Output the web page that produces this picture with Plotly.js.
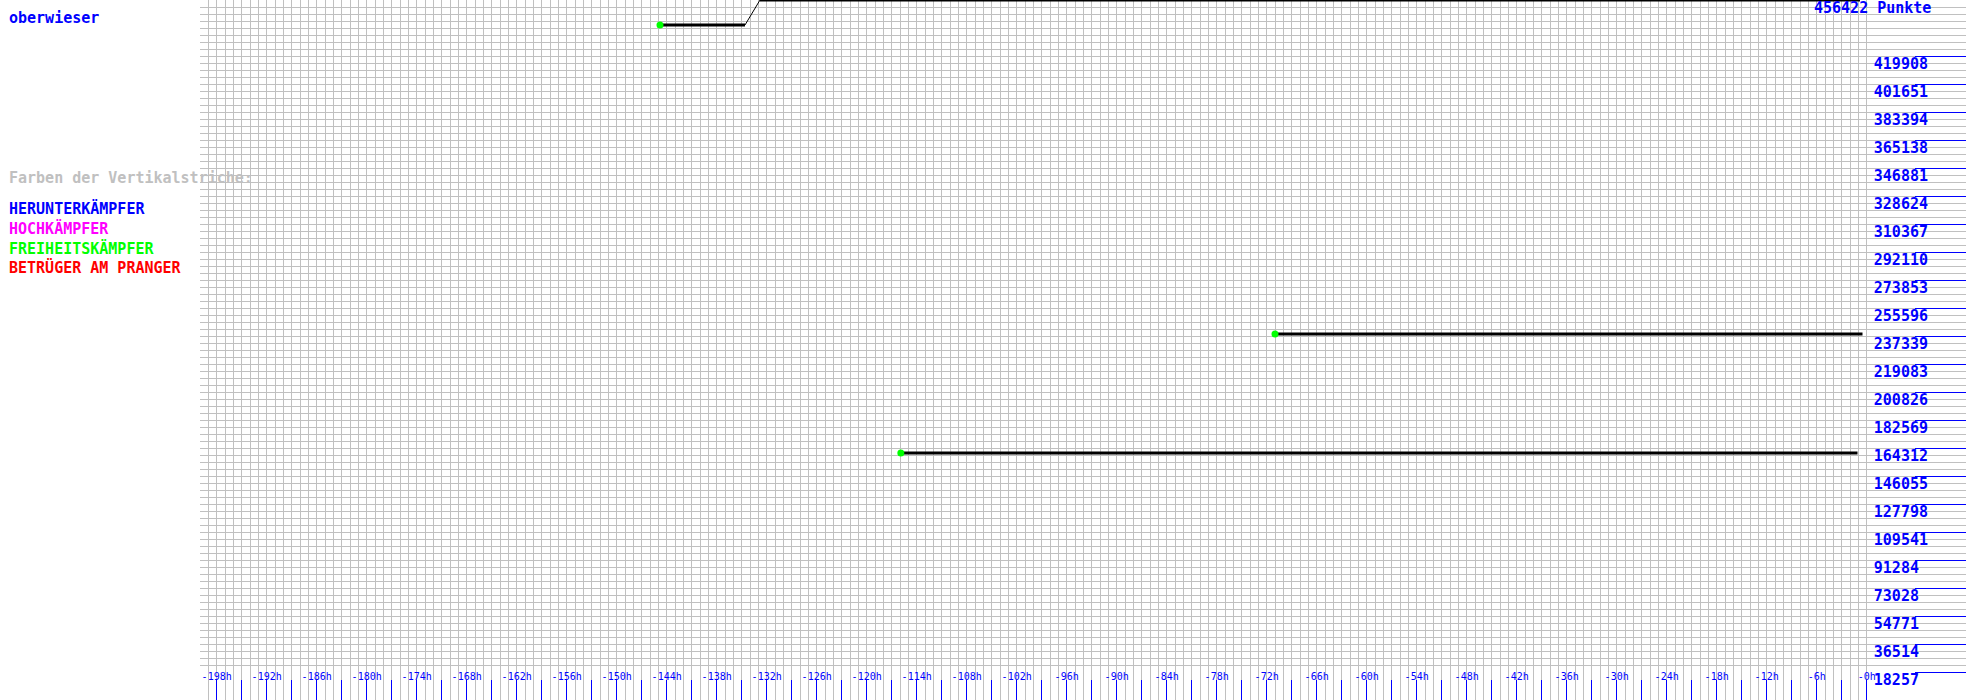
<!DOCTYPE html>
<html>
<head>
<meta charset="utf-8">
<script src="https://cdn.plot.ly/plotly-3.0.1.min.js"></script>
<style>html,body{margin:0;padding:0;background:#fff;}#chart{width:1966px;height:700px;}</style>
</head>
<body>
<div id="chart"></div>
<script>
// ---- data ----
const playerName = "oberwieser";
const maxPoints = 456422;
const legendTitle = "Farben der Vertikalstriche:";
const legendLabels = ["HERUNTERKÄMPFER", "HOCHKÄMPFER", "FREIHEITSKÄMPFER", "BETRÜGER AM PRANGER"];
const legendColors = ["#0000ff", "#ff00ff", "#00ff00", "#ff0000"];

// hours relative to now, points
const line1X = [-144.8, -134.6];
const line1Y = [440122, 440122];
const line1JumpX = [-134.6, -132.8];
const line1JumpY = [440122, 456422];
const line1TopX = [-132.8, -0.8];
const line1TopY = [456422, 456422];
const line2X = [-71.0, -0.5];
const line2Y = [238643, 238643];
const line3X = [-115.9, -1.1];
const line3Y = [161052, 161052];
const startX = [-144.8, -71.0, -115.9];
const startY = [440122, 238643, 161052];

const xTickHours = [-198,-195,-192,-189,-186,-183,-180,-177,-174,-171,-168,-165,-162,-159,-156,-153,-150,-147,-144,-141,-138,-135,-132,-129,-126,-123,-120,-117,-114,-111,-108,-105,-102,-99,-96,-93,-90,-87,-84,-81,-78,-75,-72,-69,-66,-63,-60,-57,-54,-51,-48,-45,-42,-39,-36,-33,-30,-27,-24,-21,-18,-15,-12,-9,-6,-3,0];
const xLabeledHours = [-198,-192,-186,-180,-174,-168,-162,-156,-150,-144,-138,-132,-126,-120,-114,-108,-102,-96,-90,-84,-78,-72,-66,-60,-54,-48,-42,-36,-30,-24,-18,-12,-6,0];
const yTickValues = [18257,36514,54771,73028,91284,109541,127798,146055,164312,182569,200826,219083,237339,255596,273853,292110,310367,328624,346881,365138,383394,401651,419908];

// ---- build ----
const W = 1966, H = 700;
const xRange = [-200, 11.92];
const yRange = [0, maxPoints];
const mono = "DejaVu Sans Mono, Liberation Mono, monospace";

const xTickText = xTickHours.map(h => xLabeledHours.indexOf(h) >= 0 ? (h === 0 ? "-0h" : h + "h") : "");
// labels are left-aligned in the original: pad shorter ones with non-breaking spaces
const yTickText = yTickValues.map(v => { let s = String(v); while (s.length < 6) s += "\u00A0"; return s; });

const traces = [
  {x: line1X, y: line1Y, mode: "lines", line: {color: "#000", width: 3}, hoverinfo: "skip"},
  {x: line1JumpX, y: line1JumpY, mode: "lines", line: {color: "#000", width: 1}, hoverinfo: "skip"},
  {x: line1TopX, y: line1TopY, mode: "lines", line: {color: "#000", width: 3}, hoverinfo: "skip"},
  {x: line2X, y: line2Y, mode: "lines", line: {color: "#000", width: 3}, hoverinfo: "skip"},
  {x: line3X, y: line3Y, mode: "lines", line: {color: "#000", width: 3}, hoverinfo: "skip"},
  {x: startX, y: startY, mode: "markers", marker: {color: "#00ff00", size: 7}, hoverinfo: "skip"},
  {x: [xRange[0]], y: [0], xaxis: "x2", yaxis: "y", mode: "markers", marker: {opacity: 0}, hoverinfo: "skip"},
  {x: [xRange[0]], y: [0], xaxis: "x", yaxis: "y2", mode: "markers", marker: {opacity: 0}, hoverinfo: "skip"}
];

const annotations = [];
function addText(text, px, py, color, size, yanchor) {
  const ya = yanchor || "middle";
  annotations.push({
    text: text, xref: "paper", yref: "paper",
    x: px / W, y: 1 - py / H, xanchor: "left", yanchor: ya,
    borderpad: 0,
    showarrow: false, font: {family: mono, size: size, color: color, weight: "bold"}
  });
}
addText(playerName, 8, 18, "#0000ff", 15);
addText(legendTitle, 8, 178, "#c0c0c0", 15);
legendLabels.forEach((t, i) => addText(t, 8, 208 + 20 * i, legendColors[i], 15));
addText(maxPoints + " Punkte", 1813, -2, "#0000ff", 15, "top");

const layout = {
  width: W, height: H,
  margin: {l: 0, r: 0, t: 0, b: 0, pad: 0},
  paper_bgcolor: "#fff", plot_bgcolor: "#fff",
  showlegend: false,
  xaxis: {
    domain: [200 / W, 1], range: xRange, tickmode: "linear", tick0: 0, dtick: 1,
    showgrid: true, gridcolor: "#c0c0c0", gridwidth: 1, zeroline: false,
    showticklabels: false, ticks: "", showline: false, fixedrange: true
  },
  xaxis2: {
    overlaying: "x", anchor: "y", side: "bottom", range: xRange,
    tickmode: "array", tickvals: xTickHours, ticktext: xTickText,
    ticks: "inside", ticklen: 20, tickwidth: 1, tickcolor: "#0000ff",
    ticklabelposition: "inside", ticklabelstandoff: -3,
    tickfont: {family: mono, size: 10, color: "#0000ff"},
    showgrid: false, zeroline: false, showline: false, fixedrange: true
  },
  yaxis: {
    domain: [0, 1], range: yRange, tickmode: "linear", tick0: 0, dtick: maxPoints / 100,
    showgrid: true, gridcolor: "#c0c0c0", gridwidth: 1, zeroline: false,
    showticklabels: false, ticks: "", showline: false, fixedrange: true
  },
  yaxis2: {
    overlaying: "y", anchor: "x", side: "right", range: yRange,
    tickmode: "array", tickvals: yTickValues, ticktext: yTickText,
    ticks: "inside", ticklen: 51, tickwidth: 1, tickcolor: "#0000ff",
    ticklabelposition: "inside", ticklabelshift: 8, ticklabelstandoff: -13,
    tickfont: {family: mono, size: 15, color: "#0000ff", weight: "bold"},
    showgrid: false, zeroline: false, showline: false, fixedrange: true
  },
  annotations: annotations
};

Plotly.newPlot("chart", traces, layout, {staticPlot: true, displayModeBar: false});
</script>
</body>
</html>
